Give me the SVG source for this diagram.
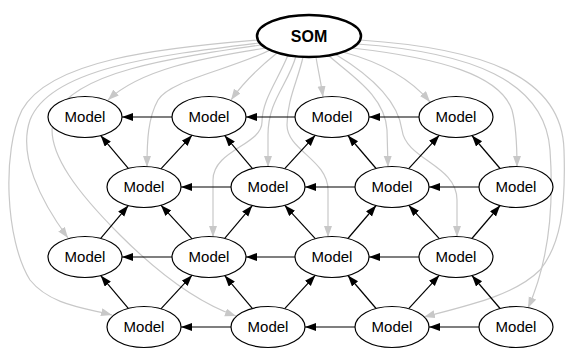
<svg xmlns="http://www.w3.org/2000/svg" width="569" height="350" viewBox="0 0 569 350">
  <style>
    .node ellipse { fill: #ffffff; stroke: #000000; stroke-width: 1.2; }
    .node text { font-family: "Liberation Sans", Arial, sans-serif; font-size: 15px; text-anchor: middle; fill: #000000; }
    #som ellipse { stroke-width: 2.5; }
    #som text { font-weight: bold; font-size: 16px; }
    .link { fill: none; stroke: #000000; stroke-width: 1.2; marker-end: url(#arrowBlack); }
    .feed { fill: none; stroke: #c8c8c8; stroke-width: 1.2; marker-end: url(#arrowGray); }
  </style>
  <defs>
    <marker id="arrowBlack" markerUnits="userSpaceOnUse" markerWidth="12" markerHeight="9" refX="11" refY="4" orient="auto">
      <path d="M0,0 L11,4 L0,8 z" fill="#000000"/>
    </marker>
    <marker id="arrowGray" markerUnits="userSpaceOnUse" markerWidth="12" markerHeight="9" refX="11" refY="4" orient="auto">
      <path d="M0,0 L11,4 L0,8 z" fill="#c8c8c8"/>
    </marker>
  </defs>

  <!-- SOM feeds every model (light gray splines) -->
  <g id="feeds">
    <path class="feed" d="M258,40 C160,48 50,60 22,110 C2,150 5,240 30,280 C50,305 85,308 112,315"/>
    <path class="feed" d="M259,43 C160,55 50,68 30,120 C18,155 40,200 68,238"/>
    <path class="feed" d="M261,45 C170,58 75,72 55,115 C40,150 85,200 120,235 C150,265 190,300 236,316"/>
    <path class="feed" d="M266,48 C200,58 140,70 108,100"/>
    <path class="feed" d="M270,50 C230,70 170,80 158,100 C148,118 147,140 147,167"/>
    <path class="feed" d="M277,53 C262,65 245,80 231,100"/>
    <path class="feed" d="M288,55 C278,80 262,100 262,122 C262,145 213,150 213,180 L213,237"/>
    <path class="feed" d="M296,56 C288,85 268,100 268,135 L268,167"/>
    <path class="feed" d="M303,57 C298,80 287,100 287,125 C287,150 328,160 328,190 L328,237"/>
    <path class="feed" d="M316,57 C318,70 321,82 323,97"/>
    <path class="feed" d="M328,55 C350,75 385,95 387,130 L388,167"/>
    <path class="feed" d="M335,54 C370,75 398,100 402,130 C406,160 457,165 457,200 L457,237"/>
    <path class="feed" d="M343,52 C380,62 410,78 430,102"/>
    <path class="feed" d="M352,48 C440,58 500,75 512,110 C516,125 517,140 517,167"/>
    <path class="feed" d="M357,44 C470,52 545,80 550,150 C555,220 545,270 528,308"/>
    <path class="feed" d="M360,40 C480,48 562,75 564,150 C566,210 560,245 540,270 C515,295 470,305 424,317"/>
  </g>

  <!-- links between neighbouring models -->
  <g id="links">
    <!-- row 1 -->
    <path class="link" d="M172,117 L122,117"/>
    <path class="link" d="M295,117 L246,117"/>
    <path class="link" d="M419,117 L369,117"/>
    <!-- row 2 -->
    <path class="link" d="M231,187 L181,187"/>
    <path class="link" d="M355,187 L305,187"/>
    <path class="link" d="M479,187 L429,187"/>
    <!-- row 3 -->
    <path class="link" d="M172,257 L122,257"/>
    <path class="link" d="M295,257 L246,257"/>
    <path class="link" d="M419,257 L369,257"/>
    <!-- row 4 -->
    <path class="link" d="M231,327 L181,327"/>
    <path class="link" d="M355,327 L305,327"/>
    <path class="link" d="M479,327 L429,327"/>
    <!-- row 2 up to row 1 -->
    <path class="link" d="M128.3,168.4 L100.7,135.6"/>
    <path class="link" d="M160.9,168.8 L192.1,135.2"/>
    <path class="link" d="M252.3,168.4 L224.7,135.6"/>
    <path class="link" d="M284.7,168.7 L315.3,135.3"/>
    <path class="link" d="M376.1,168.5 L347.9,135.5"/>
    <path class="link" d="M408.7,168.7 L439.3,135.3"/>
    <path class="link" d="M500.1,168.5 L471.9,135.5"/>
    <!-- row 3 up to row 2 -->
    <path class="link" d="M100.7,238.4 L128.3,205.6"/>
    <path class="link" d="M192.1,238.8 L160.9,205.2"/>
    <path class="link" d="M224.7,238.4 L252.3,205.6"/>
    <path class="link" d="M315.3,238.7 L284.7,205.3"/>
    <path class="link" d="M347.9,238.5 L376.1,205.5"/>
    <path class="link" d="M439.3,238.7 L408.7,205.3"/>
    <path class="link" d="M471.9,238.5 L500.1,205.5"/>
    <!-- row 4 up to row 3 -->
    <path class="link" d="M128.3,308.4 L100.7,275.6"/>
    <path class="link" d="M160.9,308.8 L192.1,275.2"/>
    <path class="link" d="M252.3,308.4 L224.7,275.6"/>
    <path class="link" d="M284.7,308.7 L315.3,275.3"/>
    <path class="link" d="M376.1,308.5 L347.9,275.5"/>
    <path class="link" d="M408.7,308.7 L439.3,275.3"/>
    <path class="link" d="M500.1,308.5 L471.9,275.5"/>
  </g>

  <g id="som" class="node"><ellipse cx="309" cy="36" rx="52" ry="21"/><text x="309" y="42">SOM</text></g>

  <g id="m11" class="node"><ellipse cx="85" cy="117" rx="37" ry="20.5"/><text x="85" y="122">Model</text></g>
  <g id="m12" class="node"><ellipse cx="209" cy="117" rx="37" ry="20.5"/><text x="209" y="122">Model</text></g>
  <g id="m13" class="node"><ellipse cx="332" cy="117" rx="37" ry="20.5"/><text x="332" y="122">Model</text></g>
  <g id="m14" class="node"><ellipse cx="456" cy="117" rx="37" ry="20.5"/><text x="456" y="122">Model</text></g>

  <g id="m21" class="node"><ellipse cx="144" cy="187" rx="37" ry="20.5"/><text x="144" y="192">Model</text></g>
  <g id="m22" class="node"><ellipse cx="268" cy="187" rx="37" ry="20.5"/><text x="268" y="192">Model</text></g>
  <g id="m23" class="node"><ellipse cx="392" cy="187" rx="37" ry="20.5"/><text x="392" y="192">Model</text></g>
  <g id="m24" class="node"><ellipse cx="516" cy="187" rx="37" ry="20.5"/><text x="516" y="192">Model</text></g>

  <g id="m31" class="node"><ellipse cx="85" cy="257" rx="37" ry="20.5"/><text x="85" y="262">Model</text></g>
  <g id="m32" class="node"><ellipse cx="209" cy="257" rx="37" ry="20.5"/><text x="209" y="262">Model</text></g>
  <g id="m33" class="node"><ellipse cx="332" cy="257" rx="37" ry="20.5"/><text x="332" y="262">Model</text></g>
  <g id="m34" class="node"><ellipse cx="456" cy="257" rx="37" ry="20.5"/><text x="456" y="262">Model</text></g>

  <g id="m41" class="node"><ellipse cx="144" cy="327" rx="37" ry="20.5"/><text x="144" y="332">Model</text></g>
  <g id="m42" class="node"><ellipse cx="268" cy="327" rx="37" ry="20.5"/><text x="268" y="332">Model</text></g>
  <g id="m43" class="node"><ellipse cx="392" cy="327" rx="37" ry="20.5"/><text x="392" y="332">Model</text></g>
  <g id="m44" class="node"><ellipse cx="516" cy="327" rx="37" ry="20.5"/><text x="516" y="332">Model</text></g>
</svg>
